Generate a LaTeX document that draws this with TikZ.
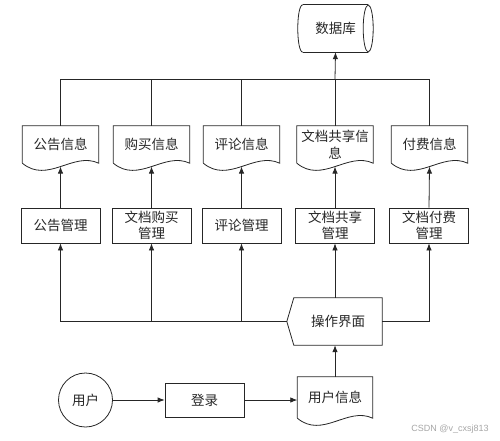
\documentclass[tikz,border=0pt]{standalone}
\usepackage{fontspec}
\newfontfamily\cn{Noto Sans CJK SC}
\newfontfamily\wm{Liberation Sans}
\usetikzlibrary{arrows.meta,calc}
\tikzset{
  ln/.style={draw=black!85, line width=0.8pt},
  arr/.style={ln, -{Latex[length=7pt,width=5.5pt]}},
  txt/.style={font=\cn\fontsize{13.5}{16.5}\selectfont, text=black!85, align=center, inner sep=1pt},
  box/.style={txt, ln, minimum width=79, minimum height=35},
  docbox/.style={txt, minimum width=76, minimum height=37},
  dbstyle/.style={txt, minimum width=65, minimum height=47},
  opbox/.style={txt, minimum width=88, minimum height=47},
  usr/.style={txt, ln, circle, minimum size=54}
}
\newcommand\docshape[1]{%
  \draw[ln] (#1.south west) -- (#1.north west) -- (#1.north east) -- (#1.south east)
    .. controls ($(#1.south west)!0.6667!(#1.south east)+(0,-12)$) and ($(#1.south west)!0.3333!(#1.south east)+(0,21)$) .. (#1.south west);
  \coordinate (#1-w) at ($(#1.south)+(0,3.4)$);}
\begin{document}
\begin{tikzpicture}[x=1pt,y=-1pt]
\useasboundingbox (0,0) rectangle (500,441);
% database
\node[dbstyle] (db) at (335.5,28.5) {数据库};
\draw[ln] (db.north west) -- (db.north east);
\draw[ln] (db.south west) -- (db.south east);
\draw[ln] (db.north west) .. controls ($(db.north west)+(-6.7,0)$) and ($(db.south west)+(-6.7,0)$) .. (db.south west);
\draw[ln] (db.east) ellipse [x radius=5, y radius=23.5];
% documents
\node[docbox] (d1) at (60.5,144.5) {公告信息};
\node[docbox] (d2) at (151.5,144.5) {购买信息};
\node[docbox] (d3) at (241.5,144.5) {评论信息};
\node[docbox] (d4) at (335,144.5) {文档共享信\\息};
\node[docbox] (d5) at (429.5,144.5) {付费信息};
\docshape{d1}\docshape{d2}\docshape{d3}\docshape{d4}\docshape{d5}
% management
\node[box] (m1) at (60.5,225.5) {公告管理};
\node[box] (m2) at (151.5,225.5) {文档购买\\管理};
\node[box] (m3) at (241.5,225.5) {评论管理};
\node[box] (m4) at (335,225.5) {文档共享\\管理};
\node[box] (m5) at (429,225.5) {文档付费\\管理};
% operation interface
\node[opbox] (op) at (338,321.5) {操作界面};
\coordinate (optip) at ($(op.west)+(-7,0)$);
\draw[ln] (op.north west) -- (op.north east) -- (op.south east) -- (op.south west) -- (optip) -- cycle;
% bottom row
\node[usr] (u) at (85.5,400) {用户};
\node[box, minimum height=34] (login) at (204.5,400) {登录};
\node[docbox, minimum width=75, minimum height=41] (ui) at (335,397.5) {用户信息};
\docshape{ui}
% top bus
\coordinate (bus) at (0,79);
\draw[ln] (d1.north) -- (d1.north |- bus) -- (d5.north |- bus) -- (d5.north);
\draw[ln] (d2.north) -- (d2.north |- bus);
\draw[ln] (d3.north) -- (d3.north |- bus);
\draw[ln] (d4.north) -- (d4.north |- bus);
\draw[arr] (d4.north |- bus) -- (db.south);
% management to documents
\draw[arr] (m1.north) -- (d1-w);
\draw[arr] (m2.north) -- (d2-w);
\draw[arr] (m3.north) -- (d3-w);
\draw[arr] (m4.north) -- (d4-w);
\draw[arr] (m5.north) -- (d5-w);
% interface to management
\draw[arr] (optip) -- (m1.south |- optip) -- (m1.south);
\draw[arr] (m2.south |- optip) -- (m2.south);
\draw[arr] (m3.south |- optip) -- (m3.south);
\draw[arr] (m4.south |- op.north) -- (m4.south);
\draw[arr] (op.east) -- (m5.south |- op.east) -- (m5.south);
% bottom flow
\draw[arr] (u) -- (login);
\draw[arr] (login) -- (ui.west |- login);
\draw[arr] (ui.north) -- (ui.north |- op.south);
% watermark
\node[font=\wm\fontsize{9}{10}\selectfont, text=black!35, inner sep=0] (wm) at (450,429) {CSDN @v\_cxsj813};
\end{tikzpicture}
\end{document}
